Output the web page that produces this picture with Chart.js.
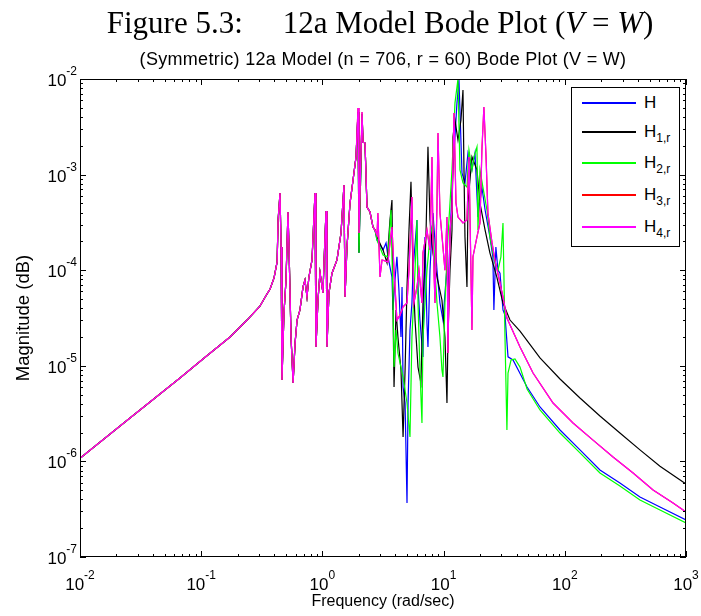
<!DOCTYPE html>
<html>
<head>
<meta charset="utf-8">
<script src="https://cdn.jsdelivr.net/npm/chart.js@4.4.0/dist/chart.umd.min.js"></script>
<style>
html,body{margin:0;padding:0;background:#fff;}
#wrap{position:relative;width:701px;height:616px;overflow:hidden;background:#fff;}
#c{position:absolute;left:0;top:0;}
#figtitle{position:absolute;left:380px;top:7px;transform:translateX(-50%);white-space:nowrap;
  font-family:"Liberation Serif","Times New Roman",serif;font-size:31px;line-height:31px;color:#000;}
#figtitle .gap{display:inline-block;width:40px;}
#subtitle{position:absolute;left:383px;top:50px;transform:translateX(-50%);white-space:nowrap;
  font-family:"Liberation Sans",Arial,sans-serif;font-size:18px;line-height:18px;letter-spacing:0.3px;color:#000;}
#legend{position:absolute;left:571px;top:87px;width:107px;height:158px;border:1px solid #000;background:#fff;
  font-family:"Liberation Sans",Arial,sans-serif;color:#000;}
#legend .row{position:absolute;left:0;width:107px;height:20px;}
#legend .ln{position:absolute;left:10px;top:9px;width:54px;height:2px;}
#legend .tx{position:absolute;left:72px;top:0;font-size:17px;line-height:20px;white-space:nowrap;}
#legend sub{font-size:12px;vertical-align:-5px;line-height:0;}
</style>
</head>
<body>
<div id="wrap">
<canvas id="c" width="701" height="616"></canvas>
<div id="figtitle">Figure 5.3:<span class="gap"></span>12a Model Bode Plot (<i>V</i> = <i>W</i>)</div>
<div id="subtitle">(Symmetric) 12a Model (n = 706, r = 60) Bode Plot (V = W)</div>
<div id="legend"></div>
</div>
<script>
// ---------- data ----------
// Shared low/mid frequency part (all five responses coincide here)
const freqBase = [0.01, 0.02585, 0.0668, 0.107, 0.1729, 0.239, 0.305, 0.345, 0.370, 0.399, 0.423, 0.431, 0.447, 0.456, 0.464, 0.482, 0.501, 0.520, 0.530, 0.551, 0.573, 0.595, 0.618, 0.653, 0.692, 0.718, 0.746, 0.774, 0.821, 0.837, 0.869, 0.885, 0.920, 0.955, 1.011, 1.031, 1.071, 1.091, 1.133, 1.200, 1.319, 1.424, 1.507, 1.537, 1.595, 1.690, 1.790, 1.894];
const magBase = [1.08e-6, 2.84e-6, 7.45e-6, 1.22e-5, 2.00e-5, 3.01e-5, 4.2e-5, 5.5e-5, 6.35e-5, 8.3e-5, 1.22e-4, 3.35e-4, 6.42e-4, 1.75e-4, 7.10e-6, 3.57e-5, 7.89e-5, 4.06e-4, 1.75e-4, 2.00e-5, 6.6e-6, 1.73e-5, 3.01e-5, 3.84e-5, 6.68e-5, 7.89e-5, 5.25e-5, 8.48e-5, 1.28e-4, 2.23e-4, 6.42e-4, 1.57e-5, 4.88e-5, 9.5e-5, 5.8e-5, 1.19e-4, 4.16e-4, 1.57e-5, 5.8e-5, 9.3e-5, 1.28e-4, 2.45e-4, 7.8e-4, 5.25e-5, 1.75e-4, 5.04e-4, 8.79e-4, 1.53e-3];

// Part shared by H, H1,r and H2,r (2 - 2.7 rad/s)
const freqMid = [1.967, 2.004, 2.123, 2.164, 2.247, 2.333, 2.470, 2.616, 2.717];
const magMid = [4.5e-3, 1.52e-4, 4.3e-3, 2.19e-3, 2.14e-3, 4.58e-4, 4.06e-4, 2.83e-4, 2.63e-4];

// H (blue)
const freqH = [2.821, 3.164, 3.350, 3.478, 3.75, 3.82, 3.97, 4.12, 4.28, 4.45, 4.54, 4.63, 4.81, 4.99, 5.09, 5.28, 5.48, 5.59, 6.03, 6.15, 6.38, 6.76, 7.02, 7.29, 7.43, 7.72, 8.17, 8.82, 9.33, 9.88, 10.66, 10.86, 11.29, 11.95, 12.89, 13.39, 14.18, 15.01, 15.89, 17.14, 18.15, 19.21, 20.7, 22.0, 24.1, 25.5, 26.0, 27.0, 28.1, 29.2, 30.9, 32.1, 34.0, 37.4, 48.8, 62.4, 91.3, 133.4, 195, 285, 417, 610, 1000];
const magH = [2.07e-4, 1.63e-4, 1.93e-4, 1.38e-4, 8.48e-5, 3.84e-5, 7.89e-5, 1.38e-4, 6.21e-5, 2.0e-5, 6.68e-5, 6.0e-6, 4.08e-6, 3.67e-7, 4.08e-6, 2.37e-5, 4.54e-5, 1.0e-4, 3.35e-4, 6.68e-5, 3.01e-5, 1.24e-5, 2.23e-4, 2.8e-5, 1.57e-5, 1.00e-4, 3.96e-4, 1.00e-4, 4.54e-5, 3.01e-5, 1.075e-4, 5.25e-5, 2.23e-4, 1.12e-3, 5.6e-3, 9.77e-3, 1.04e-3, 8.2e-4, 1.68e-3, 1.12e-3, 1.68e-3, 3.6e-4, 7.4e-4, 4.26e-4, 2.23e-4, 1.38e-4, 3.84e-5, 1.75e-4, 1.00e-4, 9.3e-5, 3.84e-5, 3.39e-5, 1.24e-5, 1.15e-5, 6.0e-6, 3.71e-6, 2.13e-6, 1.32e-6, 8.13e-7, 5.95e-7, 4.24e-7, 3.34e-7, 2.44e-7];

// H1,r (black)
const freqH1 = [2.821, 3.164, 3.414, 3.61, 3.75, 3.82, 3.90, 4.05, 4.20, 4.45, 4.63, 4.81, 4.99, 5.18, 5.38, 5.59, 5.81, 6.15, 6.50, 6.76, 7.15, 7.43, 7.72, 8.17, 8.82, 9.69, 10.26, 10.66, 10.86, 11.29, 11.73, 11.95, 12.41, 13.14, 13.91, 14.45, 14.73, 15.01, 15.59, 15.89, 17.14, 18.85, 19.96, 22.0, 24.1, 27.5, 30.9, 35.3, 42.7, 62.4, 91.3, 133.4, 195, 285, 417, 610, 1000];
const magH1 = [2.23e-4, 1.63e-4, 1.19e-4, 3.35e-4, 5.42e-4, 4.54e-5, 6.0e-6, 3.84e-5, 2.0e-5, 9.04e-6, 1.8e-6, 9.04e-6, 6.68e-5, 2.63e-4, 8.4e-4, 1.00e-4, 3.01e-5, 9.7e-6, 6.6e-6, 4.54e-5, 2.23e-4, 1.95e-3, 3.35e-4, 1.52e-4, 8.48e-5, 4.88e-5, 2.0e-5, 4.08e-6, 2.0e-5, 1.00e-4, 2.63e-4, 2.47e-3, 3.72e-3, 2.30e-3, 3.72e-3, 7.67e-3, 1.12e-3, 2.23e-4, 6.68e-5, 5.04e-4, 1.53e-3, 1.12e-3, 5.04e-4, 2.63e-4, 1.52e-4, 8.48e-5, 4.54e-5, 3.01e-5, 2.3e-5, 1.21e-5, 7.27e-6, 4.6e-6, 2.98e-6, 1.98e-6, 1.32e-6, 8.9e-7, 5.8e-7];

// H2,r (green)
const freqH2 = [2.821, 3.164, 3.478, 3.68, 3.82, 3.90, 4.05, 4.20, 4.63, 4.99, 5.28, 5.48, 5.81, 6.03, 6.15, 6.38, 6.63, 6.76, 7.29, 7.72, 8.17, 8.49, 8.82, 9.33, 9.69, 9.88, 10.26, 10.86, 11.73, 12.41, 13.14, 13.65, 14.45, 15.59, 16.19, 17.14, 17.8, 18.85, 19.21, 19.96, 21.1, 22.8, 24.1, 26.5, 28.1, 29.7, 30.9, 32.1, 33.3, 34.0, 36.0, 38.8, 42.7, 48.8, 62.4, 91.3, 133.4, 195, 285, 417, 610, 1000];
const magH2 = [2.07e-4, 1.44e-4, 1.38e-4, 4.26e-4, 5.25e-5, 9.7e-6, 2.37e-5, 1.36e-5, 7.63e-6, 4.08e-6, 1.8e-6, 2.0e-5, 1.00e-4, 3.35e-4, 4.54e-5, 9.04e-6, 2.52e-6, 2.0e-5, 1.00e-4, 2.23e-4, 3.12e-4, 1.00e-4, 4.54e-5, 2.0e-5, 9.04e-6, 7.63e-6, 4.54e-5, 2.23e-4, 1.12e-3, 5.6e-3, 1.0e-2, 1.12e-3, 8.2e-4, 7.4e-4, 1.81e-3, 1.12e-3, 1.53e-3, 1.95e-3, 2.63e-4, 1.12e-3, 7.4e-4, 4.26e-4, 2.23e-4, 1.19e-4, 1.00e-4, 1.38e-4, 3.12e-4, 2.0e-5, 2.13e-6, 8.4e-6, 1.15e-5, 1.18e-5, 9.7e-6, 5.72e-6, 3.45e-6, 1.98e-6, 1.23e-6, 7.56e-7, 5.53e-7, 3.95e-7, 3.10e-7, 2.27e-7];

// H4,r (magenta); H3,r (red) lies underneath it everywhere in the picture
const freqH4 = [1.967, 2.004, 2.123, 2.164, 2.247, 2.333, 2.470, 2.616, 2.717, 2.821, 2.87, 2.988, 3.105, 3.478, 3.61, 3.75, 3.90, 4.12, 4.37, 4.63, 4.99, 5.18, 5.48, 5.69, 6.03, 6.26, 6.63, 6.76, 7.29, 7.72, 8.02, 8.17, 8.49, 8.82, 8.99, 9.33, 9.88, 10.26, 10.66, 10.86, 11.29, 11.73, 12.18, 12.65, 13.14, 14.45, 15.59, 16.19, 17.14, 17.47, 18.85, 19.96, 20.7, 21.5, 22.4, 23.2, 25.1, 26.5, 29.2, 30.9, 33.3, 42.7, 54.7, 80.0, 116.9, 171, 250, 366, 535, 782, 1000];
const magH4 = [4.97e-3, 2.45e-4, 4.52e-3, 2.19e-3, 2.14e-3, 4.58e-4, 4.06e-4, 2.83e-4, 2.63e-4, 2.33e-4, 3.96e-4, 8.48e-5, 1.28e-4, 1.22e-4, 1.93e-4, 2.83e-4, 1.00e-4, 3.01e-5, 3.39e-5, 4.13e-5, 4.54e-5, 1.00e-4, 5.83e-4, 4.54e-5, 6.68e-5, 1.00e-4, 4.54e-5, 1.52e-4, 2.63e-4, 1.63e-4, 1.53e-3, 2.23e-4, 4.54e-5, 5.04e-4, 2.72e-3, 3.96e-4, 1.75e-4, 1.00e-4, 3.6e-4, 1.36e-5, 2.63e-4, 4.26e-4, 4.41e-3, 5.04e-4, 3.6e-4, 3.12e-4, 3.35e-4, 1.53e-3, 2.37e-5, 1.38e-4, 2.23e-4, 3.12e-4, 1.81e-3, 5.1e-3, 1.53e-3, 3.96e-4, 1.93e-4, 1.28e-4, 7.34e-5, 5.25e-5, 3.16e-5, 1.57e-5, 8.4e-6, 4.08e-6, 2.52e-6, 1.67e-6, 1.11e-6, 7.56e-7, 5.02e-7, 3.67e-7, 2.95e-7];
const freqH3 = freqH4;
const magH3 = magH4;

// Legend / labels
const seriesBase = ['H', 'H', 'H', 'H', 'H'];
const seriesSub = ['', '1,r', '2,r', '3,r', '4,r'];
const seriesColors = ['#0000ff', '#000000', '#00ff00', '#ff0000', '#ff00ff'];
const xTickExps = [-2, -1, 0, 1, 2, 3];
const yTickExps = [-7, -6, -5, -4, -3, -2];
const tickMultipliers = [1, 2, 3, 4, 5, 6, 7, 8, 9];

// ---------- chart ----------
function pts(fs, ms) { return fs.map((f, i) => ({ x: f, y: ms[i] })); }
const seriesData = [
  pts(freqBase.concat(freqMid, freqH), magBase.concat(magMid, magH)),
  pts(freqBase.concat(freqMid, freqH1), magBase.concat(magMid, magH1)),
  pts(freqBase.concat(freqMid, freqH2), magBase.concat(magMid, magH2)),
  pts(freqBase.concat(freqH3), magBase.concat(magH3)),
  pts(freqBase.concat(freqH4), magBase.concat(magH4))
];

const FONT = '"Liberation Sans", Arial, sans-serif';

const matlabAxes = {
  id: 'matlabAxes',
  afterDraw(chart) {
    const { ctx, chartArea: a, scales: { x, y } } = chart;
    ctx.save();
    ctx.strokeStyle = '#000';
    ctx.lineWidth = 1;
    ctx.beginPath();
    xTickExps.forEach(e => {
      tickMultipliers.forEach(m => {
        const v = m * Math.pow(10, e);
        if (v > x.max * 1.0001) return;
        const px = Math.round(x.getPixelForValue(v)) + 0.5;
        const len = m === 1 ? 6 : 3;
        ctx.moveTo(px, a.bottom); ctx.lineTo(px, a.bottom - len);
        ctx.moveTo(px, a.top); ctx.lineTo(px, a.top + len);
      });
    });
    yTickExps.forEach(e => {
      tickMultipliers.forEach(m => {
        const v = m * Math.pow(10, e);
        if (v > y.max * 1.0001) return;
        const py = Math.round(y.getPixelForValue(v)) + 0.5;
        const len = m === 1 ? 6 : 3;
        ctx.moveTo(a.left, py); ctx.lineTo(a.left + len, py);
        ctx.moveTo(a.right, py); ctx.lineTo(a.right - len, py);
      });
    });
    ctx.stroke();
    ctx.strokeRect(a.left + 0.5, a.top + 0.5, a.right - a.left - 1, a.bottom - a.top - 1);

    ctx.fillStyle = '#000';
    ctx.textBaseline = 'alphabetic';
    ctx.textAlign = 'left';
    const big = '17px ' + FONT, small = '12px ' + FONT;
    // x labels
    xTickExps.forEach(e => {
      const px = x.getPixelForValue(Math.pow(10, e));
      const ex = String(e);
      ctx.font = big; const w1 = ctx.measureText('10').width;
      ctx.font = small; const w2 = ctx.measureText(ex).width;
      const x0 = px - (w1 + w2) / 2;
      ctx.font = big; ctx.fillText('10', x0, 590);
      ctx.font = small; ctx.fillText(ex, x0 + w1, 579);
    });
    // y labels
    yTickExps.forEach(e => {
      const py = y.getPixelForValue(Math.pow(10, e));
      const ex = String(e);
      ctx.font = big; const w1 = ctx.measureText('10').width;
      ctx.font = small; const w2 = ctx.measureText(ex).width;
      const right = 77;
      ctx.font = big; ctx.fillText('10', right - w2 - w1, py + 7);
      ctx.font = small; ctx.fillText(ex, right - w2, py - 4);
    });
    ctx.restore();
  }
};

new Chart(document.getElementById('c'), {
  type: 'line',
  data: {
    datasets: seriesData.map((d, i) => ({
      label: seriesBase[i] + seriesSub[i],
      data: d,
      borderColor: seriesColors[i],
      backgroundColor: seriesColors[i],
      borderWidth: 1.2,
      pointRadius: 0,
      tension: 0,
      fill: false,
      order: 5 - i
    }))
  },
  options: {
    responsive: false,
    animation: false,
    events: [],
    layout: { padding: { left: 0, right: 15, top: 79, bottom: 0 } },
    plugins: { legend: { display: false }, tooltip: { enabled: false }, title: { display: false } },
    scales: {
      x: {
        type: 'logarithmic', min: 0.01, max: 1000,
        ticks: { display: false },
        grid: { display: false, drawTicks: false },
        border: { display: false },
        title: { display: true, text: 'Frequency (rad/sec)', color: '#000',
                 font: { family: FONT, size: 16 }, padding: { top: 0, bottom: 5 } },
        afterFit(s) { s.height = 59; }
      },
      y: {
        type: 'logarithmic', min: 1e-7, max: 1e-2,
        ticks: { display: false },
        grid: { display: false, drawTicks: false },
        border: { display: false },
        title: { display: true, text: 'Magnitude (dB)', color: '#000',
                 font: { family: FONT, size: 18.5 }, padding: { top: 13, bottom: 0 } },
        afterFit(s) { s.width = 80; }
      }
    }
  },
  plugins: [matlabAxes]
});

// HTML legend
const lg = document.getElementById('legend');
const rowCenters = [15, 44, 75, 107, 139];
seriesBase.forEach((b, i) => {
  const r = document.createElement('div');
  r.className = 'row';
  r.style.top = (rowCenters[i] - 10) + 'px';
  const ln = document.createElement('div');
  ln.className = 'ln';
  ln.style.background = seriesColors[i];
  const tx = document.createElement('div');
  tx.className = 'tx';
  tx.textContent = b;
  if (seriesSub[i]) {
    const s = document.createElement('sub');
    s.textContent = seriesSub[i];
    tx.appendChild(s);
  }
  r.appendChild(ln); r.appendChild(tx);
  lg.appendChild(r);
});
</script>
</body>
</html>
